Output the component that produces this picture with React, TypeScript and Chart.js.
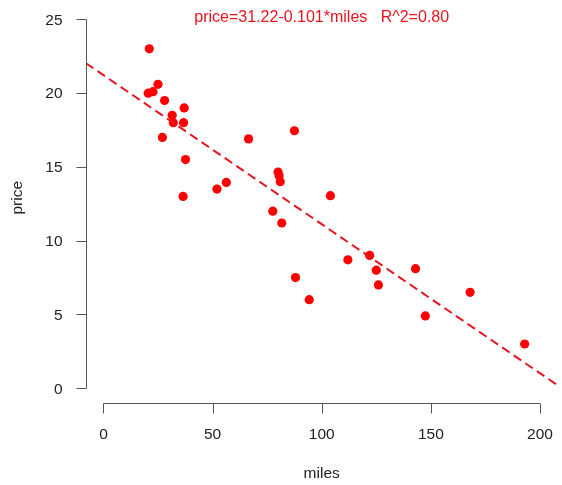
import React, { useEffect, useRef } from "react";
import { Chart, registerables } from "chart.js";

Chart.register(...registerables);

// ---- data ----
const miles = [21, 25, 20.5, 22.7, 28, 31.5, 32, 37, 36.7, 27, 37.6, 36.5, 52, 56.3, 66.5, 87.5, 80, 80.5, 81, 77.6, 104, 81.7, 88, 94.3, 112, 122, 125, 126, 143, 147.5, 168, 193];
const price = [23, 20.6, 20, 20.1, 19.5, 18.5, 18, 19, 18, 17, 15.5, 13, 13.5, 13.95, 16.9, 17.45, 14.65, 14.4, 14.0, 12, 13.05, 11.2, 7.5, 6, 8.7, 9, 8, 7, 8.1, 4.9, 6.5, 3];

const xTicks = [0, 50, 100, 150, 200];
const yTicks = [0, 5, 10, 15, 20, 25];
const xRange = [-8, 208];
const yRange = [-1, 26];

const fitIntercept = 21.22;
const fitSlope = -0.101;

const titleText = "price=31.22-0.101*miles   R^2=0.80";
const xTitle = "miles";
const yTitle = "price";

const FONT = '"Liberation Sans", Arial, Helvetica, sans-serif';

function drawText(ctx: CanvasRenderingContext2D, text: string, x: number, y: number, align: CanvasTextAlign, size: number, color: string, rot = 0) {
  ctx.save();
  ctx.translate(x, y);
  if (rot) ctx.rotate(rot);
  ctx.font = `${size}px ${FONT}`;
  ctx.fillStyle = color;
  ctx.textAlign = align;
  ctx.textBaseline = "middle";
  ctx.fillText(text, 0, 0);
  ctx.restore();
}

const axesPlugin = {
  id: "rAxes",
  afterDraw(chart: any) {
    const ctx: CanvasRenderingContext2D = chart.ctx;
    const xs = chart.scales.x;
    const ys = chart.scales.y;
    const area = chart.chartArea;
    const ax = Math.round(area.left) + 0.5;
    const ay = Math.round(area.bottom) + 0.5;
    ctx.save();
    ctx.strokeStyle = "#555";
    ctx.lineWidth = 1;
    // y axis
    ctx.beginPath();
    ctx.moveTo(ax, ys.getPixelForValue(yTicks[0]));
    ctx.lineTo(ax, ys.getPixelForValue(yTicks[yTicks.length - 1]));
    yTicks.forEach((t) => {
      const py = Math.round(ys.getPixelForValue(t)) + 0.5;
      ctx.moveTo(ax, py);
      ctx.lineTo(ax - 10, py);
    });
    // x axis
    ctx.moveTo(xs.getPixelForValue(xTicks[0]), ay);
    ctx.lineTo(xs.getPixelForValue(xTicks[xTicks.length - 1]), ay);
    xTicks.forEach((t) => {
      const px = Math.round(xs.getPixelForValue(t)) + 0.5;
      ctx.moveTo(px, ay);
      ctx.lineTo(px, ay + 10);
    });
    ctx.stroke();
    ctx.restore();

    yTicks.forEach((t) => {
      drawText(ctx, String(t), ax - 24, ys.getPixelForValue(t) + 1, "right", 15.5, "#222");
    });
    xTicks.forEach((t) => {
      drawText(ctx, String(t), xs.getPixelForValue(t), ay + 31, "center", 15.5, "#222");
    });
    const cx = (area.left + area.right) / 2;
    drawText(ctx, xTitle, cx, ay + 70, "center", 15.5, "#222");
    drawText(ctx, yTitle, 18, (area.top + area.bottom) / 2 - 6, "center", 15.5, "#222", -Math.PI / 2);
    drawText(ctx, titleText, cx, 18, "center", 16, "#e8141e");
  },
};

export default function App() {
  const ref = useRef<HTMLCanvasElement>(null);
  useEffect(() => {
    document.body.style.margin = "0";
    const points = miles.map((m, i) => ({ x: m, y: price[i] }));
    const fitLine = xRange.map((x) => ({ x, y: fitIntercept + fitSlope * x }));
    const chart = new Chart(ref.current as HTMLCanvasElement, {
      type: "scatter",
      data: {
        datasets: [
          {
            type: "line",
            data: fitLine,
            borderColor: "#e8141e",
            borderWidth: 2,
            borderDash: [9, 5],
            pointRadius: 0,
            fill: false,
          } as any,
          {
            data: points,
            backgroundColor: "#ff0000",
            borderWidth: 0,
            pointRadius: 4.6,
          },
        ],
      },
      options: {
        animation: false,
        responsive: false,
        layout: { padding: { left: 86, right: 0, top: 1, bottom: 82 } },
        plugins: { legend: { display: false }, tooltip: { enabled: false } },
        scales: {
          x: { type: "linear", min: xRange[0], max: xRange[1], display: false },
          y: { type: "linear", min: yRange[0], max: yRange[1], display: false },
        },
      },
      plugins: [axesPlugin],
    });
    return () => chart.destroy();
  }, []);
  return (
    <div style={{ position: "absolute", left: 0, top: 0, width: 562, height: 485, background: "#fff" }}>
      <canvas ref={ref} width={562} height={485} />
    </div>
  );
}
